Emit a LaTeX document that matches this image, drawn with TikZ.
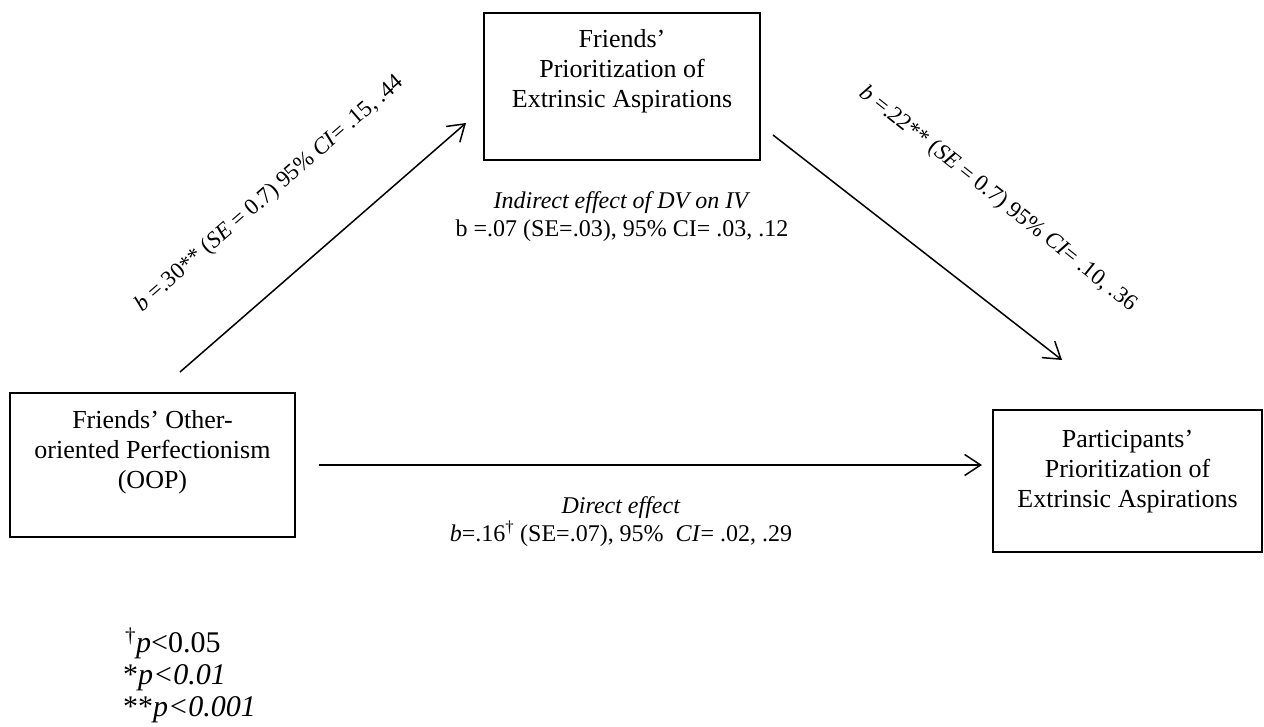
\documentclass[tikz,border=0pt]{standalone}
\usepackage{fontspec}
\setmainfont{Liberation Serif}
\usetikzlibrary{arrows.meta}
\begin{document}
\begin{tikzpicture}[x=1pt,y=-1pt,
  box/.style={draw, line width=2pt, inner sep=0pt},
  boxtext/.style={align=center, font=\fontsize{26}{30}\selectfont, inner sep=0pt, anchor=north},
  lab/.style={font=\fontsize{24}{28}\selectfont, inner sep=0pt},
  rlab/.style={font=\fontsize{23}{27}\selectfont, inner sep=0pt},
  conn/.style={line width=1.5pt, -{Straight Barb[length=16pt,width=21pt,line width=1.5pt]}},
  foot/.style={font=\fontsize{30}{33}\selectfont, inner sep=0pt, anchor=base west}]
\useasboundingbox (0,0) rectangle (1264,727);
\fill[white] (0,0) rectangle (1264,727);
% boxes
\node[box, minimum width=285pt, minimum height=144pt] (lb) at (152.5,465) {};
\node[box, minimum width=276pt, minimum height=147pt] (tb) at (622,86.5) {};
\node[box, minimum width=269pt, minimum height=142pt] (rb) at (1127.5,481) {};
\node[boxtext] (lbt) at (152.5,410) {Friends’ Other-\\oriented Perfectionism\\(OOP)};
\node[boxtext] (tbt) at (622,29) {Friends’\\Prioritization of\\Extrinsic Aspirations};
\node[boxtext] (rbt) at (1127.5,430) {Participants’\\Prioritization of\\Extrinsic Aspirations};
% connectors
\coordinate (a1s) at (180,372);
\coordinate (a1e) at (466,123);
\coordinate (a2s) at (773,135);
\coordinate (a2e) at (1062,360);
\draw[conn] (a1s) -- (a1e);
\draw[conn] (a2s) -- (a2e);
\draw[conn, shorten <=23pt, shorten >=10pt] (lb.east) -- (lb.east -| rb.west);
% labels
\node[rlab, rotate=41] (l1) at (270,194) {\textit{b} =.30** (\textit{SE} = 0.7) 95\% \textit{CI}= .15, .44};
\node[rlab, rotate=-38.5] (l2) at (998,199) {\textit{b} =.22** (\textit{SE} = 0.7) 95\% \textit{CI}= .10, .36};
\node[lab, align=center, anchor=north] (ind) at (622,191) {\textit{Indirect effect of DV on IV}\\b =.07 (SE=.03), 95\% CI= .03, .12};
\node[lab, align=center, anchor=north] (dir) at (621,496) {\textit{Direct effect}\\\textit{b}=.16\textsuperscript{†} (SE=.07), 95\%\ \ \textit{CI}= .02, .29};
% footnote
\node[foot] (f1) at (125,652) {\textsuperscript{†}\textit{p}<0.05};
\node[foot] (f2) at (123,684) {*\textit{p<0.01}};
\node[foot] (f3) at (123,716) {**\textit{p<0.001}};
\end{tikzpicture}
\end{document}
